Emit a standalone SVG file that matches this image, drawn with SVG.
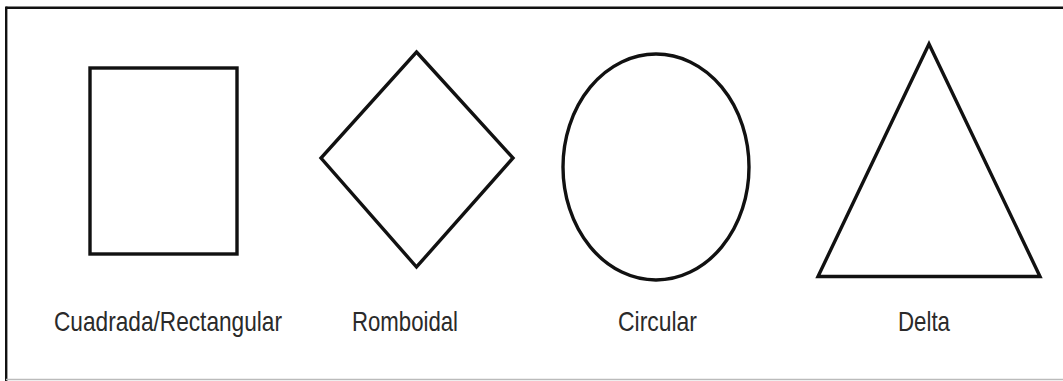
<svg xmlns="http://www.w3.org/2000/svg" width="1063" height="381" viewBox="0 0 1063 381">
<style>
.shape{fill:none;stroke:#111;stroke-width:3.4;stroke-linejoin:miter}
.lbl{font-family:"Liberation Sans",Arial,sans-serif;font-size:28px;fill:#2a2a2a;text-anchor:middle}
</style>
<rect width="1063" height="381" fill="#fff"/>
<g id="frame">
<line x1="6.2" y1="7.8" x2="1063" y2="7.8" stroke="#111" stroke-width="2.6"/>
<line x1="6.2" y1="6.5" x2="6.2" y2="381" stroke="#111" stroke-width="2.4"/>
<line x1="6" y1="379.5" x2="1063" y2="379.5" stroke="#bbb" stroke-width="1.5"/>
</g>
<g id="cuadrada">
<rect class="shape" x="90" y="68" width="147" height="186" stroke-width="3.8"/>
<text class="lbl" x="168" y="331" textLength="228" lengthAdjust="spacingAndGlyphs">Cuadrada/Rectangular</text>
</g>
<g id="romboidal">
<polygon class="shape" points="416.5,52 513,158 416.5,267 321,158"/>
<text class="lbl" x="405" y="331" textLength="106" lengthAdjust="spacingAndGlyphs">Romboidal</text>
</g>
<g id="circular">
<ellipse class="shape" cx="656" cy="167" rx="93" ry="113"/>
<text class="lbl" x="657.5" y="331" textLength="79" lengthAdjust="spacingAndGlyphs">Circular</text>
</g>
<g id="delta">
<polygon class="shape" points="929,44 1040,276.5 818,276.5"/>
<text class="lbl" x="924" y="331" textLength="52" lengthAdjust="spacingAndGlyphs">Delta</text>
</g>
</svg>
